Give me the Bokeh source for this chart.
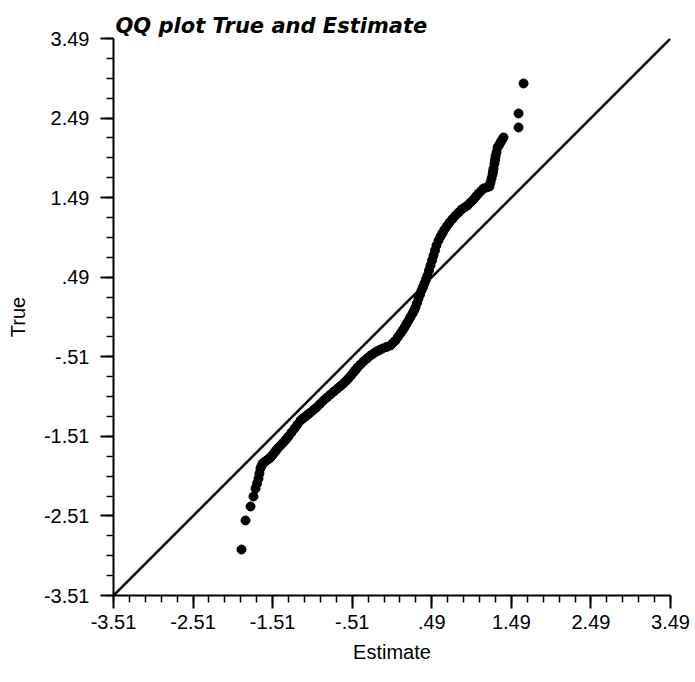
from bokeh.plotting import figure
from bokeh.models import Range1d, FixedTicker, Slope
from bokeh.embed import file_html
from bokeh.resources import INLINE

# Data (Estimate quantiles vs True quantiles)
estimate = [-1.901, -1.851, -1.788, -1.751, -1.725, -1.706, -1.688, -1.676, -1.663, -1.650,
            -1.637, -1.612, -1.587, -1.562, -1.537, -1.512, -1.487, -1.462, -1.436, -1.405,
            -1.374, -1.342, -1.311, -1.273, -1.235, -1.198, -1.160, -1.128, -1.097, -1.066,
            -1.034, -0.996, -0.959, -0.915, -0.871, -0.827, -0.783, -0.739, -0.695, -0.657,
            -0.619, -0.588, -0.557, -0.525, -0.494, -0.469, -0.444, -0.406, -0.368, -0.324,
            -0.280, -0.242, -0.205, -0.167, -0.129, -0.079, -0.029, 0.002, 0.034, 0.065,
            0.097, 0.122, 0.147, 0.172, 0.197, 0.222, 0.248, 0.266, 0.285, 0.304,
            0.323, 0.342, 0.361, 0.380, 0.398, 0.417, 0.436, 0.455, 0.474, 0.493,
            0.512, 0.530, 0.549, 0.574, 0.600, 0.625, 0.650, 0.681, 0.713, 0.750,
            0.788, 0.826, 0.863, 0.901, 0.939, 0.976, 1.014, 1.046, 1.077, 1.108,
            1.140, 1.178, 1.215, 1.228, 1.241, 1.253, 1.260, 1.266, 1.278, 1.285,
            1.291, 1.303, 1.316, 1.335, 1.354, 1.372, 1.391, 1.580, 1.580, 1.643]
true_vals = [-2.932, -2.567, -2.391, -2.266, -2.165, -2.102, -2.040, -1.977, -1.914, -1.882,
             -1.851, -1.832, -1.813, -1.794, -1.776, -1.745, -1.713, -1.681, -1.650, -1.619,
             -1.587, -1.550, -1.512, -1.461, -1.411, -1.361, -1.311, -1.285, -1.260, -1.235,
             -1.210, -1.178, -1.147, -1.103, -1.059, -1.021, -0.984, -0.946, -0.909, -0.877,
             -0.846, -0.814, -0.783, -0.745, -0.707, -0.676, -0.645, -0.607, -0.569, -0.531,
             -0.494, -0.469, -0.444, -0.425, -0.406, -0.387, -0.368, -0.336, -0.305, -0.261,
             -0.217, -0.180, -0.142, -0.098, -0.054, -0.010, 0.034, 0.071, 0.109, 0.166,
             0.223, 0.273, 0.323, 0.367, 0.411, 0.461, 0.512, 0.574, 0.637, 0.700,
             0.763, 0.826, 0.889, 0.951, 1.002, 1.046, 1.090, 1.134, 1.178, 1.222,
             1.266, 1.303, 1.341, 1.366, 1.391, 1.429, 1.467, 1.504, 1.542, 1.573,
             1.605, 1.618, 1.630, 1.680, 1.731, 1.781, 1.818, 1.856, 1.919, 1.963,
             2.007, 2.057, 2.120, 2.151, 2.183, 2.214, 2.246, 2.372, 2.548, 2.925]

tick_values = [-3.51, -2.51, -1.51, -0.51, 0.49, 1.49, 2.49, 3.49]
tick_labels = ["-3.51", "-2.51", "-1.51", "-.51", ".49", "1.49", "2.49", "3.49"]
axis_min, axis_max = -3.51, 3.49

p = figure(output_backend="svg", toolbar_location=None,
           frame_width=557, frame_height=557,
           x_range=Range1d(axis_min, axis_max), y_range=Range1d(axis_min, axis_max),
           min_border_left=113, min_border_top=38, min_border_right=20, min_border_bottom=80,
           title="QQ plot True and Estimate")

p.title.text_font = "DejaVu Sans"
p.title.text_font_style = "bold italic"
p.title.text_font_size = "21px"
p.title.text_color = "black"
p.title.align = "left"
p.title.offset = 2
p.title.standoff = 2

p.outline_line_color = None
p.xgrid.visible = False
p.ygrid.visible = False
p.background_fill_color = "white"
p.border_fill_color = "white"

x_minor = [round(axis_min + 0.2 * k, 4) for k in range(36)]
y_minor = [round(axis_min + 0.25 * k, 4) for k in range(29)]
p.xaxis.ticker = FixedTicker(ticks=tick_values, minor_ticks=x_minor)
p.yaxis.ticker = FixedTicker(ticks=tick_values, minor_ticks=y_minor)
overrides = {v: s for v, s in zip(tick_values, tick_labels)}
p.xaxis.major_label_overrides = overrides
p.yaxis.major_label_overrides = overrides

p.xaxis.axis_label = "Estimate"
p.yaxis.axis_label = "True"

for ax in (p.xaxis[0], p.yaxis[0]):
    ax.axis_line_width = 2
    ax.axis_line_color = "black"
    ax.major_tick_line_width = 2
    ax.minor_tick_line_width = 1.5
    ax.major_tick_line_color = "black"
    ax.minor_tick_line_color = "black"
    ax.major_tick_out = 13
    ax.major_tick_in = 0
    ax.minor_tick_out = 7
    ax.minor_tick_in = 0
    ax.major_label_text_font = "Liberation Sans"
    ax.major_label_text_font_size = "20px"
    ax.major_label_text_color = "black"
    ax.axis_label_text_font = "Liberation Sans"
    ax.axis_label_text_font_size = "20px"
    ax.axis_label_text_font_style = "normal"
    ax.axis_label_text_color = "black"

p.xaxis.major_label_standoff = 6
p.yaxis.major_label_standoff = 11
p.xaxis.axis_label_standoff = 9
p.yaxis.axis_label_standoff = 12

p.add_layout(Slope(gradient=1, y_intercept=0, line_color="black", line_width=2.5))

p.scatter(estimate, true_vals, marker="circle", size=9, color="black")

open("out.html", "w").write(file_html(p, INLINE))
